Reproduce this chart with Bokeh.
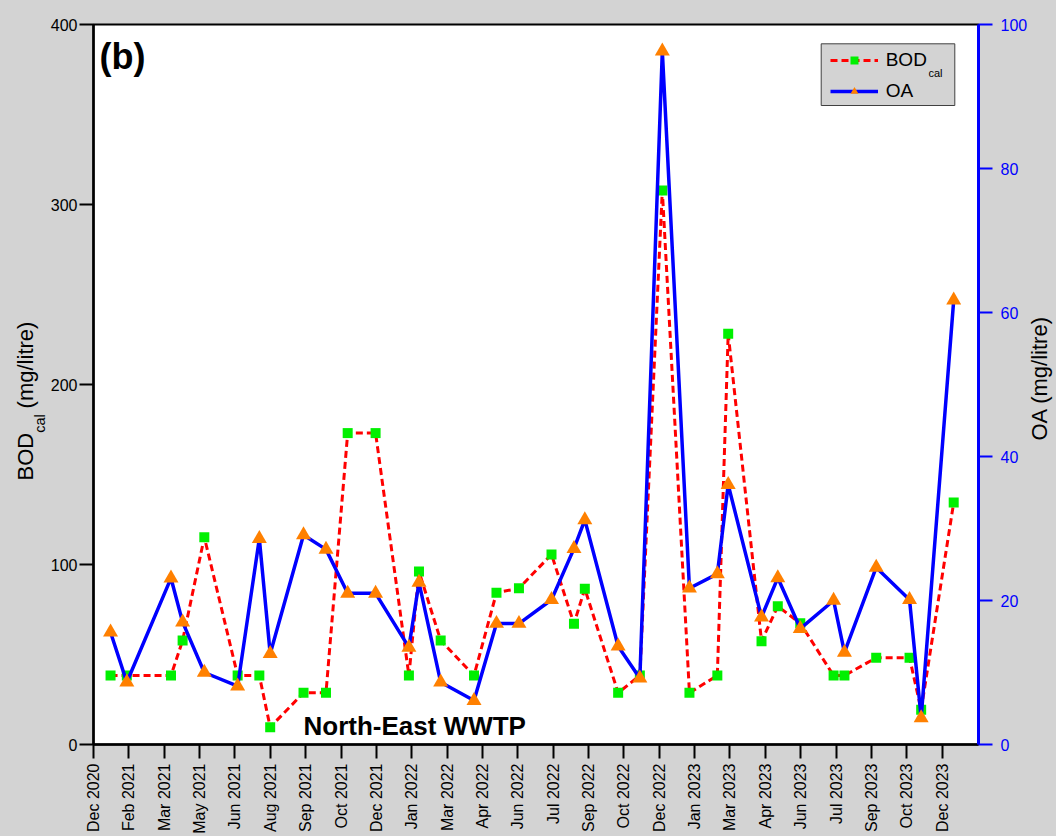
import numpy as np
import pandas as pd
from math import pi
from bokeh.plotting import figure
from bokeh.models import (Range1d, LinearAxis, FixedTicker, Label, Legend,
                          LegendItem, ColumnDataSource, Title, BoxAnnotation)
from bokeh.core.properties import value
from bokeh.embed import file_html
from bokeh.resources import INLINE

# ---------------- data ----------------
dates = ["2021-01-09", "2021-01-30", "2021-03-28", "2021-04-12", "2021-05-10",
         "2021-06-22", "2021-07-20", "2021-08-03", "2021-09-15", "2021-10-14",
         "2021-11-11", "2021-12-17", "2022-01-29", "2022-02-11", "2022-03-11",
         "2022-04-23", "2022-05-22", "2022-06-20", "2022-08-01", "2022-08-30",
         "2022-09-13", "2022-10-26", "2022-11-23", "2022-12-22", "2023-01-26",
         "2023-03-03", "2023-03-17", "2023-04-29", "2023-05-20", "2023-06-18",
         "2023-07-31", "2023-08-14", "2023-09-24", "2023-11-06", "2023-11-21",
         "2024-01-02"]
bod_cal = [38.3, 38.3, 38.3, 57.8, 115.2, 38.3, 38.3, 9.6, 28.7, 28.7,
           173.0, 173.0, 38.3, 96.1, 57.8, 38.3, 84.3, 86.8, 105.6, 67.1,
           86.5, 28.7, 38.3, 307.8, 28.7, 38.3, 228.2, 57.4, 76.8, 67.4,
           38.3, 38.3, 48.2, 48.2, 19.3, 134.4]
oa = [15.6, 8.65, 23.1, 17.0, 10.0, 8.1, 28.6, 12.6, 29.1, 27.1,
      21.0, 21.0, 13.5, 22.5, 8.65, 6.1, 16.8, 16.8, 20.1, 27.2,
      31.2, 13.65, 9.2, 96.3, 21.7, 23.7, 36.1, 17.7, 23.15, 16.1,
      20.0, 12.8, 24.6, 20.1, 3.7, 61.7]
tick_labels = ["Dec 2020", "Feb 2021", "Mar 2021", "May 2021", "Jun 2021",
               "Aug 2021", "Sep 2021", "Oct 2021", "Dec 2021", "Jan 2022",
               "Mar 2022", "Apr 2022", "Jun 2022", "Jul 2022", "Sep 2022",
               "Oct 2022", "Dec 2022", "Jan 2023", "Mar 2023", "Apr 2023",
               "Jun 2023", "Jul 2023", "Sep 2023", "Oct 2023", "Dec 2023"]
bod_ticks = [0, 100, 200, 300, 400]
oa_ticks = [0, 20, 40, 60, 80, 100]

# x axis: evenly spaced ticks every 45.625 days starting at the first tick
origin = pd.Timestamp("2020-12-18")
tick_step_days = 45.625
x = ((pd.to_datetime(dates) - origin) / pd.Timedelta(days=1)).to_numpy() / tick_step_days

BG = "#d3d3d3"
GREEN = "#00f000"
ORANGE = "#ff8000"
FONT = "Liberation Sans"

p = figure(width=1056, height=836,
           x_range=Range1d(0, 25.03), y_range=Range1d(0, 400),
           output_backend="svg", toolbar_location=None,
           min_border_left=93, min_border_right=78,
           min_border_top=24, min_border_bottom=92,
           background_fill_color="white", border_fill_color=BG,
           outline_line_color="black", outline_line_width=2)
p.extra_y_ranges = {"oa": Range1d(0, 100)}
p.xgrid.visible = False
p.ygrid.visible = False

right = LinearAxis(y_range_name="oa")
p.add_layout(right, "right")

def style_axis(ax, color):
    ax.axis_line_color = color
    ax.axis_line_width = 2.5
    ax.major_tick_line_color = color
    ax.major_tick_line_width = 2
    ax.major_tick_in = 0
    ax.major_tick_out = 14
    ax.minor_tick_line_color = None
    ax.major_label_text_font = FONT
    ax.major_label_text_font_size = "16px"
    ax.major_label_text_color = color
    ax.major_label_standoff = 2

for ax in p.xaxis:
    style_axis(ax, "black")
    ax.ticker = FixedTicker(ticks=list(range(len(tick_labels))))
    ax.major_label_overrides = {i: lab for i, lab in enumerate(tick_labels)}
    ax.major_label_orientation = pi / 2
    ax.major_label_standoff = 5

yax = p.yaxis[0]
yax.ticker = FixedTicker(ticks=bod_ticks)
style_axis(yax, "black")

right.ticker = FixedTicker(ticks=oa_ticks)
style_axis(right, "blue")
right.axis_line_width = 3
right.major_label_standoff = 8

# legend frame drawn underneath everything, legend itself transparent
p.add_layout(BoxAnnotation(left=727.7, right=861.3, bottom=639, top=700.7,
                           left_units="screen", right_units="screen",
                           bottom_units="screen", top_units="screen",
                           fill_color=BG, fill_alpha=1.0,
                           line_color="#404040", line_width=1, line_alpha=1.0,
                           level="underlay"))

src = ColumnDataSource(dict(x=x, bod=bod_cal, oa=oa))
r1 = p.line("x", "bod", source=src, line_color="red", line_width=3, line_dash="7 4")
r2 = p.scatter("x", "bod", source=src, marker="square", size=10,
               fill_color=GREEN, line_color=None)
r3 = p.line("x", "oa", source=src, y_range_name="oa", line_color="blue", line_width=3.5)
r4 = p.scatter("x", "oa", source=src, y_range_name="oa", marker="triangle", size=15,
               fill_color=ORANGE, line_color=None)

legend = Legend(items=[LegendItem(label=value("BOD"), renderers=[r1, r2]),
                       LegendItem(label=value("OA"), renderers=[r3, r4])],
                location=(736.7, 642), orientation="vertical",
                background_fill_alpha=0.0, border_line_color=None,
                label_text_font=FONT, label_text_font_size="19px",
                label_text_color="black",
                glyph_width=48, glyph_height=20, label_standoff=8,
                label_width=64, label_height=20, spacing=9, padding=7,
                margin=0)
p.add_layout(legend)

def add_label(text, x0, y0, size, bold=False, level="annotation"):
    p.add_layout(Label(x=x0, y=y0, x_units="screen", y_units="screen", text=text,
                       text_font=FONT, text_font_size=size,
                       text_font_style="bold" if bold else "normal",
                       text_color="black", text_align="left",
                       text_baseline="alphabetic", level=level))

# legend subscript
add_label("cal", 835, 671.5, "11px", level="overlay")
# panel letter and site name
add_label("(b)", 6, 688, "36px", bold=True)
add_label("North-East WWTP", 210, 19, "26px", bold=True)

# left axis title: BOD_cal (mg/litre) -> subscript panel next to the axis, main text outside
NB = "\u00a0"
t_sub = Title(text="cal", align="left", offset=311.7, standoff=0,
              vertical_align="bottom", text_font=FONT, text_font_size="14.5px",
              text_font_style="normal", text_color="black")
t_main = Title(text="BOD" + NB * 4 + "(mg/litre)", align="left", offset=264,
               standoff=-16, vertical_align="bottom", text_font=FONT,
               text_font_size="22px", text_font_style="normal", text_color="black")
p.add_layout(t_sub, "left")
p.add_layout(t_main, "left")

# right axis title, reading bottom to top, in its own side panel
p.add_layout(Label(x=9, y=304, x_units="screen", y_units="screen",
                   text="OA (mg/litre)", angle=pi / 2, text_font=FONT,
                   text_font_size="22px", text_color="black", text_align="left",
                   text_baseline="alphabetic"), "right")

html = file_html(p, INLINE, title="BOD cal and OA - North-East WWTP")
html = html.replace("<head>", "<head><style>body{background:%s;}</style>" % BG, 1)
open("out.html", "w").write(html)
